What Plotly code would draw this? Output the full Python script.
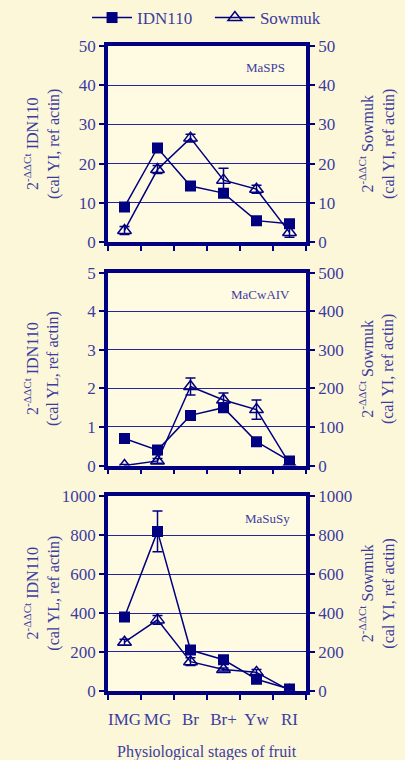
import plotly.graph_objects as go

stages = ["IMG", "MG", "Br", "Br+", "Yw", "RI"]

# MaSPS
sps_idn = [9.0, 24.0, 14.3, 12.5, 5.5, 4.7]
sps_idn_err = [1.0, 1.0, 0.8, 1.0, 0.6, 0.6]
sps_sow = [3.0, 18.5, 26.5, 15.8, 13.5, 2.5]
sps_sow_err = [1.0, 1.0, 1.0, 3.0, 1.0, 1.2]

# MaCwAIV
cw_idn = [0.70, 0.40, 1.30, 1.50, 0.62, 0.12]
cw_idn_err = [0.08, 0.06, 0.10, 0.10, 0.06, 0.05]
cw_sow = [0.0, 12.0, 205.0, 170.0, 145.0, 5.0]
cw_sow_err = [3.0, 6.0, 22.0, 18.0, 25.0, 3.0]

# MaSuSy
ss_idn = [380.0, 820.0, 210.0, 160.0, 60.0, 10.0]
ss_idn_err = [15.0, 105.0, 10.0, 10.0, 8.0, 3.0]
ss_sow = [250.0, 365.0, 150.0, 110.0, 95.0, 2.0]
ss_sow_err = [15.0, 22.0, 20.0, 8.0, 15.0, 2.0]

panels = [
    dict(idn=sps_idn, ie=sps_idn_err, sow=sps_sow, se=sps_sow_err,
         lrange=[0, 50], ldt=10, rrange=[0, 50], rdt=10, name="MaSPS", nx=265,
         ltitle2="(cal YI, ref actin)", dom=[1 - 239.5/760, 1 - 42/760]),
    dict(idn=cw_idn, ie=cw_idn_err, sow=cw_sow, se=cw_sow_err,
         lrange=[0, 5], ldt=1, rrange=[0, 500], rdt=100, name="MaCwAIV", nx=260,
         ltitle2="(cal YL, ref actin)", dom=[1 - 464/760, 1 - 270/760]),
    dict(idn=ss_idn, ie=ss_idn_err, sow=ss_sow, se=ss_sow_err,
         lrange=[0, 1000], ldt=200, rrange=[0, 1000], rdt=200, name="MaSuSy", nx=267,
         ltitle2="(cal YL, ref actin)", dom=[1 - 690.5/760, 1 - 495/760]),
]

NAVY = "#000080"
TXT = "#3c3ca0"
FONT = "Liberation Serif, Times New Roman, DejaVu Serif, serif"
W, H = 405, 760
xdom = [108/W, 306/W]

fig = go.Figure()
annotations = []

for i, p in enumerate(panels):
    k = i + 1
    xa = "x" if k == 1 else f"x{k}"
    ya_l = f"y{2*k-1}" if k > 1 else "y"
    ya_r = f"y{2*k}"
    fig.add_trace(go.Scatter(
        x=stages, y=p["idn"], xaxis=xa, yaxis=ya_l, name="IDN110   ",
        mode="lines+markers", showlegend=(k == 1), legendgroup="idn",
        line=dict(color=NAVY, width=1.5),
        marker=dict(symbol="square", size=11, color=NAVY),
        error_y=dict(type="data", array=p["ie"], color=NAVY, thickness=1.5, width=5),
    ))
    fig.add_trace(go.Scatter(
        x=stages, y=p["sow"], xaxis=xa, yaxis=ya_r, name="Sowmuk",
        mode="lines+markers", showlegend=(k == 1), legendgroup="sow",
        line=dict(color=NAVY, width=1.5),
        marker=dict(symbol="triangle-up-open", size=12, color=NAVY, line=dict(width=1.5)),
        error_y=dict(type="data", array=p["se"], color=NAVY, thickness=1.5, width=5),
    ))
    xkey = "xaxis" if k == 1 else f"xaxis{k}"
    ylkey = "yaxis" if k == 1 else f"yaxis{2*k-1}"
    yrkey = f"yaxis{2*k}"
    fig.layout[xkey] = dict(
        domain=xdom, anchor=ya_l, type="category", tickson="boundaries",
        ticks="outside", ticklen=5, tickwidth=2, tickcolor=NAVY,
        showline=True, linecolor=NAVY, linewidth=3.5, mirror=True,
        showgrid=False, showticklabels=(k == 3), tickangle=0, automargin=False,
        ticklabelstandoff=10,
        tickfont=dict(family=FONT, size=17, color=TXT),
        range=[-0.5, 5.5],
    )
    fig.layout[ylkey] = dict(
        domain=p["dom"], anchor=xa, range=p["lrange"], dtick=p["ldt"],
        ticks="outside", ticklen=5, tickwidth=2, tickcolor=NAVY,
        showline=True, linecolor=NAVY, linewidth=3.5, automargin=False,
        showgrid=True, gridcolor="#2424a0", gridwidth=1.2, zeroline=False,
        tickfont=dict(family=FONT, size=17, color=TXT),
    )
    fig.layout[yrkey] = dict(
        overlaying=ya_l, anchor=xa, side="right", range=p["rrange"], dtick=p["rdt"],
        ticks="outside", ticklen=5, tickwidth=2, tickcolor=NAVY,
        showline=True, linecolor=NAVY, linewidth=3.5, automargin=False,
        showgrid=False, zeroline=False,
        tickfont=dict(family=FONT, size=17, color=TXT),
    )
    ycen = (p["dom"][0] + p["dom"][1]) / 2
    annotations.append(dict(
        x=p["nx"]/W, y=p["dom"][1] - 22/H, xref="paper", yref="paper",
        text=p["name"], showarrow=False, xanchor="center", yanchor="middle",
        font=dict(family=FONT, size=13, color=TXT),
    ))
    annotations.append(dict(
        x=42/W, y=ycen, xref="paper", yref="paper", textangle=-90,
        text="2<sup>-ΔΔCt</sup> IDN110<br>" + p["ltitle2"], showarrow=False,
        xanchor="center", yanchor="middle",
        font=dict(family=FONT, size=16, color=TXT),
    ))
    annotations.append(dict(
        x=377/W, y=ycen, xref="paper", yref="paper", textangle=-90,
        text="2<sup>-ΔΔCt</sup> Sowmuk<br>(cal YI, ref actin)", showarrow=False,
        xanchor="center", yanchor="middle",
        font=dict(family=FONT, size=16, color=TXT),
    ))

annotations.append(dict(
    x=207/W, y=1 - 752/H, xref="paper", yref="paper",
    text="Physiological stages of fruit", showarrow=False,
    xanchor="center", yanchor="middle",
    font=dict(family=FONT, size=16, color=TXT),
))

fig.update_layout(
    width=W, height=H,
    margin=dict(l=0, r=0, t=0, b=0),
    paper_bgcolor="#fdf7da", plot_bgcolor="#fffbe2",
    annotations=annotations,
    font=dict(family=FONT, color=TXT),
    legend=dict(orientation="h", x=0.51, xanchor="center", y=1 - 14/H, yanchor="middle",
                font=dict(family=FONT, size=17, color=TXT), bgcolor="rgba(0,0,0,0)",
                itemwidth=40, tracegroupgap=0),
)

fig.write_html("out.html", config={"displayModeBar": False},
               post_script="document.body.style.margin='0';document.body.style.background='#fdf7da';")
